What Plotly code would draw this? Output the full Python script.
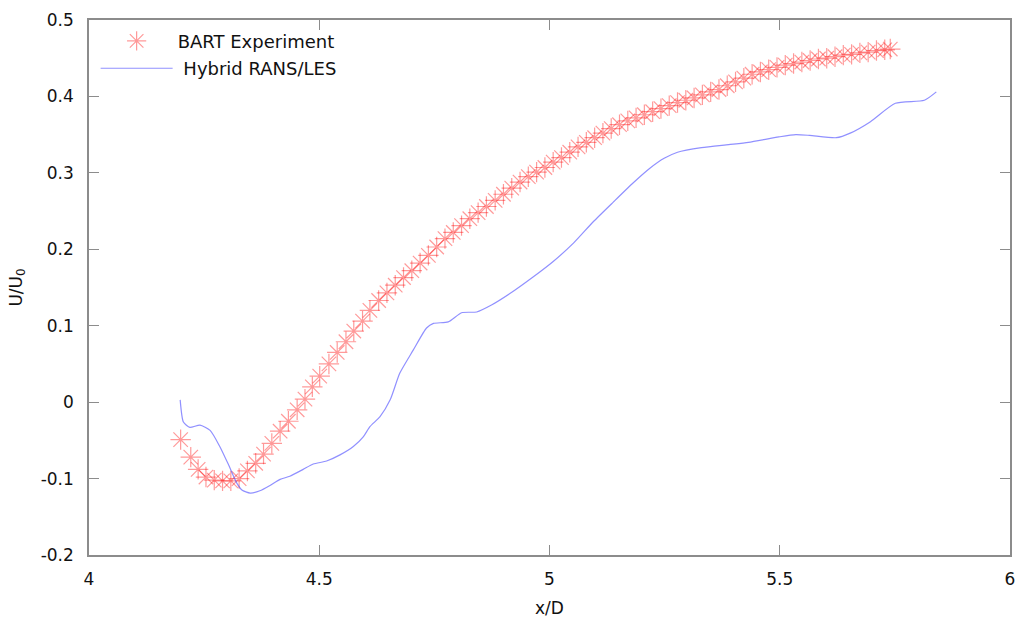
import plotly.graph_objects as go

# BART Experiment (x/D, U/U0)
exp_x = [4.199, 4.221, 4.237, 4.254, 4.272, 4.290, 4.308, 4.326, 4.344, 4.362,
         4.379, 4.397, 4.415, 4.433, 4.452, 4.469, 4.485, 4.501, 4.521, 4.539,
         4.558, 4.575, 4.594, 4.610, 4.629, 4.647, 4.665, 4.683, 4.701, 4.719,
         4.737, 4.755, 4.773, 4.791, 4.809, 4.827, 4.845, 4.863, 4.882, 4.900,
         4.918, 4.936, 4.954, 4.972, 4.990, 5.008, 5.026, 5.044, 5.062, 5.080,
         5.098, 5.116, 5.134, 5.152, 5.170, 5.188, 5.206, 5.224, 5.242, 5.260,
         5.278, 5.296, 5.314, 5.332, 5.350, 5.368, 5.386, 5.404, 5.422, 5.440,
         5.458, 5.476, 5.494, 5.512, 5.530, 5.548, 5.566, 5.584, 5.602, 5.620,
         5.638, 5.656, 5.674, 5.692, 5.710, 5.728, 5.740]
exp_y = [-0.049, -0.072, -0.088, -0.098, -0.102, -0.103, -0.103, -0.100, -0.090, -0.080,
         -0.068, -0.054, -0.038, -0.025, -0.010, 0.004, 0.020, 0.034, 0.050, 0.065,
         0.079, 0.093, 0.106, 0.120, 0.133, 0.143, 0.153, 0.163, 0.172, 0.182,
         0.192, 0.203, 0.214, 0.222, 0.231, 0.240, 0.248, 0.256, 0.264, 0.272,
         0.280, 0.288, 0.295, 0.301, 0.307, 0.314, 0.320, 0.327, 0.334, 0.340,
         0.346, 0.352, 0.358, 0.363, 0.368, 0.372, 0.376, 0.380, 0.384, 0.388,
         0.392, 0.395, 0.398, 0.402, 0.406, 0.409, 0.414, 0.419, 0.424, 0.429,
         0.432, 0.435, 0.438, 0.441, 0.443, 0.445, 0.447, 0.449, 0.450, 0.452,
         0.454, 0.455, 0.457, 0.458, 0.460, 0.461, 0.462]

# Hybrid RANS/LES
les_x = [4.198, 4.205, 4.219, 4.241, 4.263, 4.284, 4.303, 4.321, 4.332, 4.350,
         4.371, 4.393, 4.415, 4.436, 4.465, 4.487, 4.516, 4.545, 4.574, 4.596,
         4.610, 4.632, 4.654, 4.675, 4.704, 4.733, 4.748, 4.780, 4.809, 4.842,
         4.874, 4.914, 4.965, 5.008, 5.052, 5.095, 5.139, 5.182, 5.218, 5.249,
         5.278, 5.330, 5.389, 5.432, 5.498, 5.535, 5.565, 5.623, 5.653, 5.697,
         5.751, 5.814, 5.840]
les_y = [0.003, -0.026, -0.033, -0.030, -0.037, -0.058, -0.082, -0.106, -0.115, -0.119,
         -0.116, -0.109, -0.101, -0.097, -0.088, -0.081, -0.077, -0.069, -0.058, -0.045,
         -0.032, -0.019, 0.003, 0.038, 0.068, 0.097, 0.103, 0.105, 0.117, 0.118,
         0.127, 0.142, 0.164, 0.184, 0.208, 0.236, 0.262, 0.287, 0.306, 0.319,
         0.327, 0.333, 0.337, 0.340, 0.347, 0.350, 0.349, 0.346, 0.352, 0.367,
         0.391, 0.395, 0.406]

x_ticks = [4, 4.5, 5, 5.5, 6]
y_ticks = [-0.2, -0.1, 0, 0.1, 0.2, 0.3, 0.4, 0.5]
y_tick_text = ["-0.2", "-0.1", "0", "0.1", "0.2", "0.3", "0.4", "0.5"]

FONT = "DejaVu Sans"

fig = go.Figure()
fig.add_trace(go.Scatter(
    x=exp_x, y=exp_y, mode="markers", name="BART Experiment",
    legendgroup="a",
    marker=dict(symbol="asterisk-open", size=17, color="rgba(255,0,0,0.4)",
                line=dict(color="rgba(255,0,0,0.4)", width=1.2)),
))
fig.add_trace(go.Scatter(
    x=les_x, y=les_y, mode="lines", name=" Hybrid RANS/LES",
    legendgroup="b",
    line=dict(color="rgba(70,70,255,0.6)", width=1.2, shape="spline", smoothing=0.6),
))

axis_common = dict(
    showgrid=False, zeroline=False, showline=True, mirror="allticks",
    linecolor="#8c8c8c", linewidth=1.5, automargin=False,
    ticks="inside", ticklen=10, tickwidth=1, tickcolor="#8c8c8c",
    tickfont=dict(family=FONT, size=17, color="#111"),
)

fig.update_xaxes(range=[4, 6], tickvals=x_ticks, ticktext=[str(t) for t in x_ticks],
                 title=dict(text="x/D", font=dict(family=FONT, size=17, color="#111"), standoff=14),
                 ticklabelstandoff=8, **axis_common)
fig.update_yaxes(range=[-0.2, 0.5], tickvals=y_ticks, ticktext=y_tick_text,
                 title=dict(text="U/U<sub>0</sub>", font=dict(family=FONT, size=17, color="#111"), standoff=14),
                 ticklabelstandoff=10, **axis_common)

fig.update_layout(
    width=1021, height=624,
    margin=dict(l=89, r=11, t=20, b=69),
    plot_bgcolor="white", paper_bgcolor="white",
    font=dict(family=FONT, size=17, color="#111"),
    showlegend=True,
    legend=dict(x=0.0072, y=0.995, xanchor="left", yanchor="top",
                bgcolor="rgba(0,0,0,0)", font=dict(family=FONT, size=18),
                itemwidth=72, traceorder="grouped", tracegroupgap=1),
)

fig.write_html("out.html")
